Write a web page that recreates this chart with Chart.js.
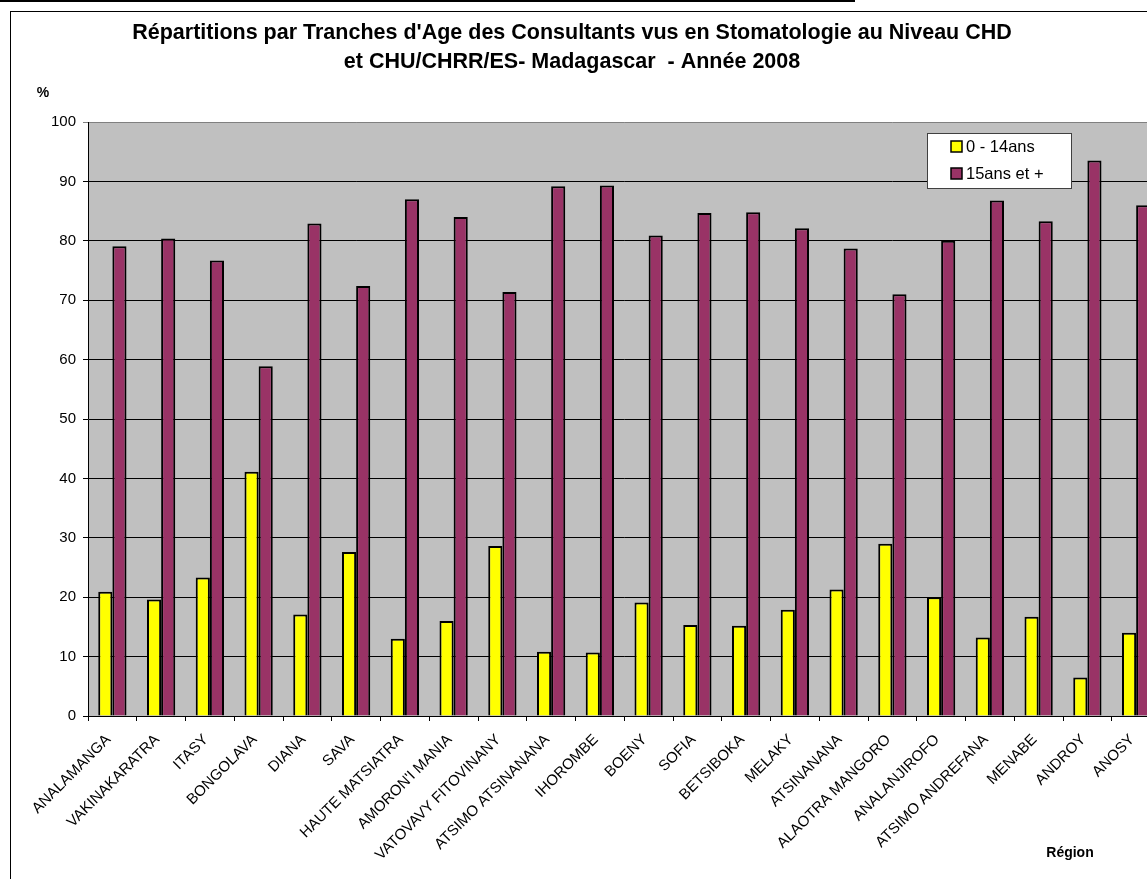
<!DOCTYPE html>
<html>
<head>
<meta charset="utf-8">
<title>Stomatologie 2008</title>
<script src="https://cdn.jsdelivr.net/npm/chart.js@4.4.1/dist/chart.umd.min.js"></script>
<style>
  body { margin: 0; overflow: hidden; background: #fff; }
  #topLine { position: absolute; left: 0; top: 0; width: 855px; height: 2px; background: #000; }
  #chartBox { position: absolute; left: 10px; top: 11px; width: 1200px; height: 900px;
              border-left: 1px solid #000; border-top: 1px solid #000; }
  #myChart { position: absolute; left: 0; top: 0; }
</style>
</head>
<body>
<div id="topLine"></div>
<div id="chartBox">
  <canvas id="myChart" width="1170" height="880"></canvas>
</div>
<script>
// regions (axe x)
var regions = ["ANALAMANGA", "VAKINAKARATRA", "ITASY", "BONGOLAVA", "DIANA", "SAVA",
  "HAUTE MATSIATRA", "AMORON'I MANIA", "VATOVAVY FITOVINANY", "ATSIMO ATSINANANA",
  "IHOROMBE", "BOENY", "SOFIA", "BETSIBOKA", "MELAKY", "ATSINANANA", "ALAOTRA MANGORO",
  "ANALANJIROFO", "ATSIMO ANDREFANA", "MENABE", "ANDROY", "ANOSY"];

// % des consultants 0 - 14ans
var moins15 = [20.9, 19.6, 23.3, 41.1, 17.1, 27.6, 13.0, 16.0, 28.6, 10.8, 10.7,
  19.1, 15.3, 15.2, 17.9, 21.3, 29.0, 20.0, 13.2, 16.7, 6.5, 14.0];

// % des consultants 15ans et +
var plus15 = [79.1, 80.4, 76.7, 58.9, 82.9, 72.4, 87.0, 84.0, 71.4, 89.2, 89.3,
  80.9, 84.7, 84.8, 82.1, 78.7, 71.0, 80.0, 86.8, 83.3, 93.5, 86.0];

var serieNames = ["0 - 14ans", "15ans et +"];
var titreLignes = ["Répartitions par Tranches d'Age des Consultants vus en Stomatologie au Niveau CHD",
  "et CHU/CHRR/ES- Madagascar  - Année 2008"];
var yTicks = [0, 10, 20, 30, 40, 50, 60, 70, 80, 90, 100];

var police = "'Liberation Sans', Arial, sans-serif";

// fond gris de la zone de tracé
const fondGris = {
  id: 'fondGris',
  beforeDraw(chart) {
    const ctx = chart.ctx, a = chart.chartArea;
    ctx.save();
    ctx.fillStyle = '#C0C0C0';
    ctx.fillRect(a.left, a.top, a.right - a.left, a.bottom - a.top);
    ctx.restore();
  }
};

// titre, "%", "Région" et légende façon Excel
const textesExcel = {
  id: 'textesExcel',
  afterDraw(chart) {
    const ctx = chart.ctx;
    ctx.save();
    ctx.fillStyle = '#000';
    ctx.textAlign = 'center';
    ctx.textBaseline = 'middle';
    ctx.font = "bold 21.5px " + police;
    ctx.fillText(titreLignes[0], 561, 21);
    ctx.fillText(titreLignes[1], 561, 50);

    ctx.font = "bold 14px " + police;
    ctx.fillText("%", 32, 81);
    ctx.fillText("Région", 1059, 841);

    // legende
    ctx.fillStyle = '#fff';
    ctx.fillRect(916, 121, 144, 55);
    ctx.strokeStyle = '#404040';
    ctx.lineWidth = 1;
    ctx.strokeRect(916.5, 121.5, 144, 55);
    ctx.font = "16.5px " + police;
    ctx.textAlign = 'left';
    var ys = [134, 161];
    chart.data.datasets.forEach(function (ds, i) {
      ctx.fillStyle = ds.backgroundColor;
      ctx.fillRect(940, ys[i] - 5, 11, 11);
      ctx.strokeStyle = '#000';
      ctx.lineWidth = 1.5;
      ctx.strokeRect(940, ys[i] - 5, 11, 11);
      ctx.fillStyle = '#000';
      ctx.fillText(ds.label, 955, ys[i] + 1);
    });
    ctx.restore();
  }
};

var ctx = document.getElementById("myChart");
var myChart = new Chart(ctx, {
  type: 'bar',
  data: {
    labels: regions,
    datasets: [{
      label: serieNames[0],
      data: moins15,
      backgroundColor: '#FFFF00',
      borderColor: '#000',
      borderWidth: 2
    }, {
      label: serieNames[1],
      data: plus15,
      backgroundColor: '#993366',
      borderColor: '#000',
      borderWidth: 2
    }]
  },
  options: {
    responsive: false,
    animation: false,
    categoryPercentage: 0.58,
    barPercentage: 1.0,
    layout: { padding: { left: 0, right: 20.5, top: 110, bottom: 26 } },
    plugins: {
      legend: { display: false },
      title: { display: false },
      tooltip: { enabled: false }
    },
    scales: {
      x: {
        grid: { drawOnChartArea: false, drawTicks: true, tickLength: 5, color: '#000', offset: true },
        border: { color: '#000', width: 1 },
        ticks: {
          color: '#000',
          font: { family: police, size: 15 },
          minRotation: 45,
          maxRotation: 45,
          autoSkip: false,
          padding: 10,
          labelOffset: -4
        },
        afterFit: function (scale) { scale.height = 150; }
      },
      y: {
        min: 0,
        max: 100,
        afterBuildTicks: function (scale) {
          scale.ticks = yTicks.map(function (v) { return { value: v }; });
        },
        grid: {
          color: function (c) { return c.tick && c.tick.value === 100 ? '#808080' : '#000'; },
          lineWidth: 1,
          tickLength: 5
        },
        border: { color: '#000', width: 1 },
        ticks: {
          color: '#000',
          font: { family: police, size: 15 },
          padding: 7
        },
        afterFit: function (scale) { scale.width = 77; }
      }
    }
  },
  plugins: [fondGris, textesExcel]
});
</script>
</body>
</html>
